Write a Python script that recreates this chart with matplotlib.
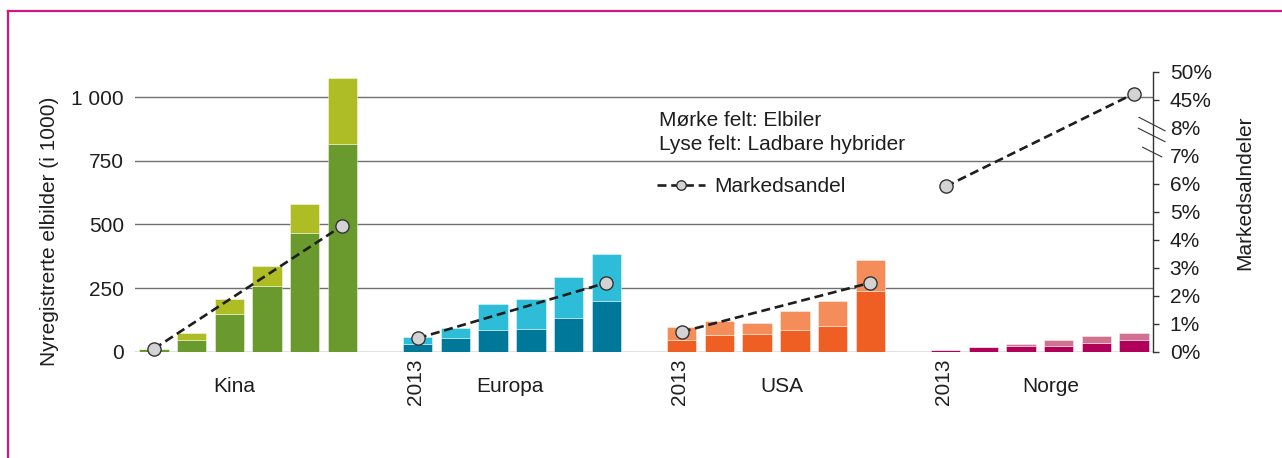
import numpy as np
import matplotlib
matplotlib.use("Agg")
import matplotlib.pyplot as plt
from matplotlib.lines import Line2D
import matplotlib.transforms as mtransforms

plt.rcParams['font.family'] = ['Liberation Sans', 'DejaVu Sans']

# ---------------- data ----------------
regions = ["Kina", "Europa", "USA", "Norge"]
years = [2013, 2014, 2015, 2016, 2017, 2018]

# thousands of new registrations: dark = electric cars (Elbiler), light = plug-in hybrids
kina_el = [12, 47, 147, 257, 467, 815]
kina_hyb = [0, 25, 59, 78, 112, 262]
europa_el = [31, 55, 85, 89, 134, 200]
europa_hyb = [27, 37, 101, 118, 159, 184]
usa_el = [47, 64, 71, 86, 102, 237]
usa_hyb = [49, 55, 42, 74, 96, 124]
norge_el = [8, 18, 24, 24, 33, 45]
norge_hyb = [0, 0, 8, 22, 30, 27]

# market share (%) first and last year
share_years_idx = [0, 5]
kina_share = [0.1, 4.5]
europa_share = [0.48, 2.46]
usa_share = [0.71, 2.46]
norge_share = [5.9, 46.1]

left_ticks = [0, 250, 500, 750, 1000]
left_ticklabels = ["0", "250", "500", "750", "1 000"]
right_ticks = [0, 1, 2, 3, 4, 5, 6, 7, 8, 45, 50]
right_ticklabels = [f"{t}%" for t in right_ticks]

dark_colors = ["#6a9a2e", "#00789a", "#ef5f24", "#b1005a"]
light_colors = ["#afbd24", "#2ebdd9", "#f58d5b", "#d0718f"]

el_all = [kina_el, europa_el, usa_el, norge_el]
hyb_all = [kina_hyb, europa_hyb, usa_hyb, norge_hyb]
share_all = [kina_share, europa_share, usa_share, norge_share]

# ---------------- figure ----------------
W, H = 1282, 458
fig = plt.figure(figsize=(W / 100, H / 100), dpi=100)
fig.patch.set_facecolor("white")

x0, x1 = 135, 1153
y0, y1 = 351.7, 71.7
ax1 = fig.add_axes([x0 / W, (H - y0) / H, (x1 - x0) / W, (y0 - y1) / H])
ax1.set_xlim(-0.5, 26.5)
ax1.set_ylim(0, 1100)

FS = 15
TXT = "#1e1e1e"
slot = 7
bw = 0.78
for g in range(4):
    xs = np.arange(len(years)) + g * slot
    ax1.bar(xs, el_all[g], width=bw, color=dark_colors[g], zorder=3,
            edgecolor=(1, 1, 1, 0.5), linewidth=0.6)
    ax1.bar(xs, hyb_all[g], bottom=el_all[g], width=bw, color=light_colors[g],
            zorder=3, edgecolor=(1, 1, 1, 0.5), linewidth=0.6)

for sp in ax1.spines.values():
    sp.set_visible(False)
ax1.set_yticks(left_ticks)
ax1.set_yticklabels(left_ticklabels)
ax1.tick_params(axis="y", length=0, pad=8, labelsize=FS, labelcolor=TXT)
ax1.set_xticks([])
ax1.yaxis.grid(True, color="#6f6f6f", linewidth=1.0, zorder=0)
ax1.set_axisbelow(True)

# right axis with broken scale
def fwd(v):
    v = np.asarray(v, dtype=float)
    return np.where(v <= 8, v, np.where(v >= 45, 9 + (v - 45) / 5, 8 + (v - 8) / 37))

def inv(u):
    u = np.asarray(u, dtype=float)
    return np.where(u <= 8, u, np.where(u >= 9, 45 + (u - 9) * 5, 8 + (u - 8) * 37))

ax2 = ax1.twinx()
ax2.set_yscale("function", functions=(fwd, inv))
ax2.set_ylim(0, 50)
for name, sp in ax2.spines.items():
    sp.set_visible(name == "right")
ax2.spines["right"].set_color("#333333")
ax2.spines["right"].set_linewidth(1.0)
ax2.set_yticks(right_ticks)
ax2.set_yticklabels(right_ticklabels)
ax2.yaxis.set_minor_locator(matplotlib.ticker.NullLocator())
ax2.tick_params(axis="y", length=4, width=1.0, color="#333333", pad=8,
                labelsize=FS, labelcolor=TXT)
for i, t in enumerate(ax2.yaxis.get_major_ticks()):
    if right_ticks[i] in (7, 8):
        t.tick2line.set_visible(False)

# break marks
for (xa, ya, xb, yb) in [(0.9863, 0.837, 1.0118, 0.789),
                         (0.9856, 0.798, 1.0118, 0.750),
                         (0.9899, 0.730, 1.0086, 0.696)]:
    ax2.add_line(Line2D([xa, xb], [ya, yb], transform=ax2.transAxes,
                        color="#333333", linewidth=0.8, clip_on=False))

line_handle = None
for g in range(4):
    xs = np.array(share_years_idx) + g * slot
    (ln,) = ax2.plot(xs, share_all[g], linestyle=(0, (3.4, 1.8)), color="#1e1e1e",
                     linewidth=1.9, marker="o", markersize=9.5,
                     markerfacecolor="#d3d3d3", markeredgecolor="#333333",
                     markeredgewidth=1.0, zorder=5, clip_on=False)
    line_handle = ln

# legend / key
fig.text(659.3 / W, (H - 125.5) / H, "Mørke felt: Elbiler", fontsize=FS,
         color=TXT, ha="left", va="baseline")
fig.text(659.3 / W, (H - 150) / H, "Lyse felt: Ladbare hybrider", fontsize=FS,
         color=TXT, ha="left", va="baseline")
leg = fig.legend([line_handle], ["Markedsandel"], loc="center left",
                 bbox_to_anchor=(657 / W, (H - 186.7) / H), frameon=False,
                 fontsize=FS, handlelength=2.3, handletextpad=0.45,
                 borderpad=0, borderaxespad=0, markerscale=0.72, numpoints=1)
for t in leg.get_texts():
    t.set_color(TXT)

# group labels
trans = mtransforms.blended_transform_factory(ax1.transData, ax1.transAxes)
label_pos = [2.13, 9.44, 16.67, 23.8]
for g, name in enumerate(regions):
    ax1.text(label_pos[g], (y0 - 386.7) / (y0 - y1), name, transform=trans,
             fontsize=FS, color=TXT, ha="center", va="center")
    if g > 0:
        ax1.text(g * slot - 0.05, (y0 - 382) / (y0 - y1), str(years[0]),
                 transform=trans, fontsize=FS, color=TXT, rotation=90,
                 ha="center", va="center")

# axis titles
fig.text(50 / W, (H - 231.5) / H, "Nyregistrerte elbilder (i 1000)", rotation=90,
         fontsize=FS, color=TXT, ha="center", va="center")
fig.text(1245 / W, (H - 192.5) / H, "Markedsalndeler", rotation=90,
         fontsize=FS, color=TXT, ha="center", va="center")

# pink frame
pink = "#d4177b"
fig.add_artist(Line2D([8 / W, 8 / W], [0, (H - 10.7) / H], transform=fig.transFigure,
                      color=pink, linewidth=1.6))
fig.add_artist(Line2D([8 / W, 1], [(H - 10.7) / H, (H - 10.7) / H],
                      transform=fig.transFigure, color=pink, linewidth=1.6))

fig.savefig("out.png", dpi=100, facecolor="white")
